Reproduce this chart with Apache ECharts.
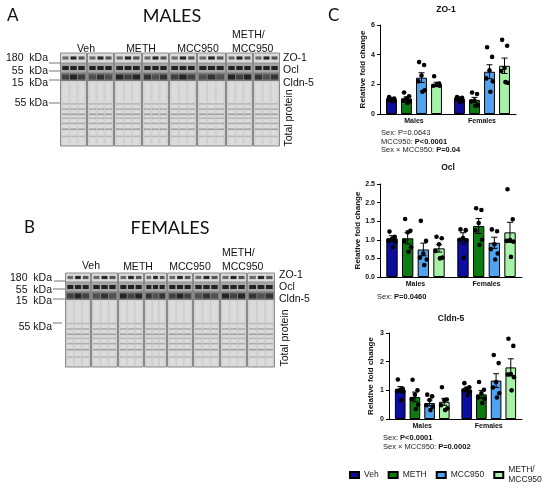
<!DOCTYPE html>
<html><head><meta charset="utf-8">
<script src="https://cdn.jsdelivr.net/npm/echarts@6/dist/echarts.min.js"></script>
<style>html,body{margin:0;padding:0;background:#fff}#c{width:550px;height:491px}</style>
</head><body><div id="c"></div>
<script>
// ---------------- DATA ----------------
const TREATMENTS = ['Veh', 'METH', 'MCC950', 'METH/\nMCC950'];
const SEXES = ['Males', 'Females'];
const COLORS = ['#0c0c9e', '#0b7b12', '#4fa3f0', '#a8f2a8'];

// per treatment: [Males, Females]
const ZO1_MEAN = [[1.0, 1.0], [1.05, 0.95], [2.45, 2.85], [2.0, 3.25]];
const ZO1_SEM  = [[0.05, 0.06], [0.10, 0.17], [0.33, 0.47], [0.14, 0.52]];
const ZO1_DOTS = [
  [[1.15, 1.05, 1.0, 0.95, 0.9, 0.85], [1.15, 1.1, 1.05, 1.0, 0.9, 0.8]],
  [[1.45, 1.2, 1.05, 0.9, 0.85, 0.75], [1.45, 1.35, 0.9, 0.85, 0.6, 0.55]],
  [[3.5, 3.3, 2.6, 2.2, 1.6, 1.5], [4.5, 3.85, 2.95, 2.4, 2.2, 1.5]],
  [[2.55, 2.05, 1.95, 1.9, 1.9, 2.0], [5.0, 4.6, 3.1, 2.9, 2.1, 2.15]]
];

const OCL_MEAN = [[1.04, 1.04], [1.04, 1.37], [0.74, 0.92], [0.77, 1.20]];
const OCL_SEM  = [[0.07, 0.15], [0.15, 0.20], [0.17, 0.15], [0.10, 0.27]];
const OCL_DOTS = [
  [[1.22, 1.08, 1.02, 0.97, 0.95, 0.8], [1.28, 1.26, 1.05, 1.0, 0.98, 0.52]],
  [[1.56, 1.24, 1.2, 0.97, 0.8, 0.68], [1.85, 1.8, 1.45, 1.25, 1.0, 0.86]],
  [[1.51, 0.97, 0.63, 0.52, 0.47, 0.32], [1.28, 1.23, 0.88, 0.75, 0.63, 0.47]],
  [[1.08, 1.04, 0.88, 0.7, 0.52, 0.5], [2.36, 1.55, 0.99, 0.97, 0.95, 0.54]]
];

const CLDN_MEAN = [[1.03, 1.03], [0.77, 0.86], [0.56, 1.34], [0.60, 1.80]];
const CLDN_SEM  = [[0.10, 0.08], [0.17, 0.13], [0.10, 0.24], [0.12, 0.30]];
const CLDN_DOTS = [
  [[1.38, 1.05, 1.02, 0.98, 0.95, 0.66], [1.25, 1.11, 1.05, 1.0, 0.95, 0.83]],
  [[1.37, 1.0, 0.85, 0.7, 0.5, 0.35], [1.29, 1.02, 0.9, 0.75, 0.71, 0.56]],
  [[0.85, 0.79, 0.66, 0.48, 0.43, 0.31], [2.23, 1.95, 1.29, 1.1, 0.9, 0.75]],
  [[1.11, 0.68, 0.66, 0.48, 0.37, 0.31], [2.8, 2.55, 1.57, 1.55, 1.46, 1.0]]
];

const ZO1_STATS = ['Sex: P=0.0643', 'MCC950: {b|P<0.0001}', 'Sex \u00d7 MCC950: {b|P=0.04}'];
const OCL_STATS = ['Sex: {b|P=0.0460}'];
const CLDN_STATS = ['Sex: {b|P<0.0001}', 'Sex \u00d7 MCC950: {b|P=0.0002}'];

const BLOT_GROUPS = ['Veh', 'METH', 'MCC950'];
const BLOT_ROWS = ['ZO-1', 'Ocl', 'Cldn-5'];
const KDA = ['180  kDa', '55  kDa', '15  kDa', '55 kDa'];

// ---------------- LAYOUT / STYLE ----------------
const BAR_FRAC = 0.16, GAP_FRAC = 0.38;
const JIT = [-0.22, 0.24, 0.0, -0.3, 0.3, 0.08];
const AR = 'Liberation Sans';

function barX(api, cat, t) {
  const band = api.size([1, 0])[0];
  const bw = band * BAR_FRAC, gap = bw * GAP_FRAC;
  const total = 4 * bw + 3 * gap;
  const c = api.coord([cat, 0]);
  return c[0] - total / 2 + bw / 2 + t * (bw + gap);
}

const CHARTS = [
  {title: 'ZO-1', mean: ZO1_MEAN, sem: ZO1_SEM, dots: ZO1_DOTS,
   grid: {left: 380, top: 25, width: 136, height: 89}, max: 6, interval: 2, dec: 0, nameGap: 11,
   tpos: [446, 10], stats: ZO1_STATS, spos: [381, 133]},
  {title: 'Ocl', mean: OCL_MEAN, sem: OCL_SEM, dots: OCL_DOTS,
   grid: {left: 380, top: 184, width: 142, height: 93}, max: 2.5, interval: 0.5, dec: 1, nameGap: 17,
   tpos: [448, 168], stats: OCL_STATS, spos: [377, 297]},
  {title: 'Cldn-5', mean: CLDN_MEAN, sem: CLDN_SEM, dots: CLDN_DOTS,
   grid: {left: 389, top: 333, width: 133, height: 86}, max: 3, interval: 1, dec: 0, nameGap: 14,
   tpos: [451, 319], stats: CLDN_STATS, spos: [383, 438]}
];

const grids = [], xAxes = [], yAxes = [], series = [], graphics = [];

CHARTS.forEach((ch, gi) => {
  grids.push(Object.assign({containLabel: false}, ch.grid));
  xAxes.push({
    gridIndex: gi, type: 'category', data: SEXES,
    axisLine: {lineStyle: {color: '#000', width: 1}},
    axisTick: {alignWithLabel: true, length: 2, lineStyle: {color: '#000'}},
    axisLabel: {fontSize: 7, fontWeight: 'bold', color: '#111', margin: 4, fontFamily: AR}
  });
  yAxes.push({
    gridIndex: gi, type: 'value', min: 0, max: ch.max, interval: ch.interval,
    name: 'Relative fold change', nameLocation: 'middle', nameGap: ch.nameGap,
    nameTextStyle: {fontSize: 8, fontWeight: 'bold', color: '#111', fontFamily: AR},
    axisLine: {show: true, lineStyle: {color: '#000', width: 1}},
    axisTick: {show: true, length: 3, lineStyle: {color: '#000'}},
    splitLine: {show: false},
    axisLabel: {fontSize: 7, fontWeight: 'bold', color: '#111', margin: 5, fontFamily: AR,
      formatter: v => v.toFixed(ch.dec)}
  });
  TREATMENTS.forEach((tn, t) => {
    series.push({
      type: 'bar', name: tn, xAxisIndex: gi, yAxisIndex: gi,
      data: ch.mean[t], barWidth: (BAR_FRAC * 100) + '%', barGap: (GAP_FRAC * 100) + '%',
      itemStyle: {color: COLORS[t], borderColor: '#000', borderWidth: 1},
      z: 2, silent: true
    });
  });
  const errData = [], dotData = [];
  TREATMENTS.forEach((tn, t) => {
    SEXES.forEach((s, si) => {
      errData.push([si, ch.mean[t][si], t, ch.sem[t][si]]);
      ch.dots[t][si].forEach((v, k) => dotData.push([si, v, t, k]));
    });
  });
  series.push({
    type: 'custom', xAxisIndex: gi, yAxisIndex: gi, z: 3, silent: true,
    dimensions: ['x', 'y', 't', 's'], encode: {x: 0, y: 1},
    data: errData,
    renderItem: (params, api) => {
      const cat = api.value(0), m = api.value(1), t = api.value(2), s = api.value(3);
      const x = barX(api, cat, t);
      const top = api.coord([cat, m + s])[1], bot = api.coord([cat, m - s])[1];
      const cw = api.size([1, 0])[0] * BAR_FRAC * 0.55;
      const st = {stroke: '#000', lineWidth: 1};
      return {type: 'group', children: [
        {type: 'line', shape: {x1: x, y1: top, x2: x, y2: bot}, style: st},
        {type: 'line', shape: {x1: x - cw / 2, y1: top, x2: x + cw / 2, y2: top}, style: st},
        {type: 'line', shape: {x1: x - cw / 2, y1: bot, x2: x + cw / 2, y2: bot}, style: st}
      ]};
    }
  });
  series.push({
    type: 'custom', xAxisIndex: gi, yAxisIndex: gi, z: 4, silent: true,
    dimensions: ['x', 'y', 't', 'k'], encode: {x: 0, y: 1},
    data: dotData,
    renderItem: (params, api) => {
      const cat = api.value(0), v = api.value(1), t = api.value(2), k = api.value(3);
      const bw = api.size([1, 0])[0] * BAR_FRAC;
      const x = barX(api, cat, t) + JIT[k % JIT.length] * bw;
      const y = api.coord([cat, v])[1];
      return {type: 'circle', shape: {cx: x, cy: y, r: 2.3}, style: {fill: '#000'}};
    }
  });
  // title
  graphics.push({type: 'text', x: ch.tpos[0], y: ch.tpos[1], silent: true,
    style: {text: ch.title, fontSize: 8.5, fontWeight: 'bold', fontFamily: AR, fill: '#111',
      align: 'center', verticalAlign: 'middle'}});
  ch.stats.forEach((line, li) => {
    graphics.push({type: 'text', x: ch.spos[0], y: ch.spos[1] + li * 8.5, silent: true,
      style: {text: line, fontSize: 7.5, fontFamily: AR, fill: '#222', align: 'left', verticalAlign: 'middle',
        rich: {b: {fontSize: 7.5, fontFamily: AR, fontWeight: 'bold', fill: '#111'}}}});
  });
});

// ---------------- BLOTS (decorative images) ----------------
const TP_BANDS = [0.34, 0.42, 0.5, 0.56, 0.64, 0.73, 0.84];
function R(x, y, w, h, fill, op) {
  return {type: 'rect', silent: true, shape: {x, y, width: w, height: h},
    style: {fill, opacity: op == null ? 1 : op}};
}
function blot(B) {
  const els = [];
  const [zt, zb] = B.zo, [ot, ob] = B.ocl, [ct, cb] = B.cl, [tt, tb] = B.tp;
  for (let i = 0; i < B.boxes.length - 1; i++) {
    const x0 = B.boxes[i] + 0.5, x1 = B.boxes[i + 1] - 0.5, w = x1 - x0;
    els.push(R(x0, zt, w, zb - zt, '#dadada'));
    els.push(R(x0, ot, w, ob - ot, '#a6a6a6'));
    els.push(R(x0, ct, w, cb - ct, '#7c7c7c'));
    els.push(R(x0, tt, w, tb - tt, '#cfcfcf'));
    const lw = (w - 2) / 3;
    for (let l = 0; l < 3; l++) {
      const lx = x0 + 1 + l * lw;
      const v = 0.55 + 0.45 * (((i * 5 + l * 3) % 5) / 4);
      const v2 = 0.5 + 0.5 * (((i * 3 + l * 2 + 1) % 4) / 3);
      els.push(R(lx + 1, zt + (zb - zt) / 2 - 1.6, lw - 2, 3.2, '#111', v));
      els.push(R(lx + 0.8, ot + (ob - ot) / 2 - 2, lw - 1.6, 4, '#0a0a0a', 0.85));
      els.push(R(lx + 0.5, ct + (cb - ct) / 2 - 2.5, lw - 1, 5, '#151515', v2 * 0.85));
      els.push(R(lx + 1, tt + 1, lw - 2, tb - tt - 2, '#e6e6e6', 0.55));
      TP_BANDS.forEach((p, k) => els.push(R(lx + 0.5, tt + p * (tb - tt), lw - 1, 1.6, '#6e6e6e', 0.3 + 0.12 * (k % 3))));
    }
    els.push({type: 'rect', silent: true, shape: {x: x0, y: zt, width: w, height: tb - zt},
      style: {fill: 'none', stroke: '#8a8a8a', lineWidth: 1}});
    els.push({type: 'line', silent: true, shape: {x1: x0, y1: zb, x2: x1, y2: zb}, style: {stroke: '#888', lineWidth: 0.8}});
    els.push({type: 'line', silent: true, shape: {x1: x0, y1: ob, x2: x1, y2: ob}, style: {stroke: '#777', lineWidth: 0.8}});
  }
  return els;
}
function txt(x, y, text, opt) {
  return Object.assign({type: 'text', x, y, silent: true,
    style: Object.assign({text, fontSize: 10.5, fontFamily: AR, fill: '#111', align: 'left', verticalAlign: 'middle'}, opt || {})});
}
const BLOT_A = {boxes: [60, 87, 114, 142, 169, 197, 226, 253, 280], zo: [53, 63], ocl: [63, 73], cl: [73, 81], tp: [81, 146]};
const BLOT_B = {boxes: [65, 91, 118, 144, 167, 193, 220, 247, 275], zo: [273, 282], ocl: [282, 292], cl: [292, 300], tp: [300, 367]};
graphics.push(...blot(BLOT_A), ...blot(BLOT_B));

// panel letters & titles
const BIG = {fontFamily: 'Lato', fontSize: 18, fill: '#111'};
graphics.push(txt(7, 16, 'A', Object.assign({}, BIG, {fontSize: 17})));
graphics.push(txt(172, 16, 'MALES', Object.assign({}, BIG, {align: 'center'})));
graphics.push(txt(24, 228, 'B', Object.assign({}, BIG, {fontSize: 17})));
graphics.push(txt(170, 228, 'FEMALES', Object.assign({}, BIG, {align: 'center'})));
graphics.push(txt(328, 16, 'C', Object.assign({}, BIG, {fontSize: 17})));

// group labels
graphics.push(txt(86, 49, BLOT_GROUPS[0], {align: 'center'}));
graphics.push(txt(141, 49, BLOT_GROUPS[1], {align: 'center'}));
graphics.push(txt(198, 49, BLOT_GROUPS[2], {align: 'center'}));
graphics.push(txt(232, 35, 'METH/'));
graphics.push(txt(232, 49, 'MCC950'));
graphics.push(txt(91, 266, BLOT_GROUPS[0], {align: 'center'}));
graphics.push(txt(138, 267, BLOT_GROUPS[1], {align: 'center'}));
graphics.push(txt(190, 267, BLOT_GROUPS[2], {align: 'center'}));
graphics.push(txt(222, 253, 'METH/'));
graphics.push(txt(222, 267, 'MCC950'));

// row labels
graphics.push(txt(283, 58, BLOT_ROWS[0]), txt(283, 70.5, BLOT_ROWS[1]), txt(283, 83, BLOT_ROWS[2]));
graphics.push(txt(289, 118, 'Total protein', {align: 'center'}));
graphics[graphics.length - 1].rotation = Math.PI / 2;
graphics.push(txt(279, 275, BLOT_ROWS[0]), txt(279, 287, BLOT_ROWS[1]), txt(279, 299, BLOT_ROWS[2]));
graphics.push(txt(285, 338, 'Total protein', {align: 'center'}));
graphics[graphics.length - 1].rotation = Math.PI / 2;

// kDa labels and leader lines
function kda(x, y, t, ly, lx1, lx2) {
  graphics.push(txt(x, y, t, {align: 'right'}));
  graphics.push({type: 'line', silent: true, shape: {x1: lx1, y1: ly, x2: lx2, y2: ly}, style: {stroke: '#777', lineWidth: 1}});
}
kda(48, 58, KDA[0], 63, 49, 60);
kda(48, 71, KDA[1], 71, 49, 60);
kda(48, 83, KDA[2], 80, 49, 60);
kda(48, 103, KDA[3], 103, 49, 60);
kda(52, 278, KDA[0], 281, 54, 65);
kda(52, 290, KDA[1], 289, 53, 65);
kda(52, 301, KDA[2], 299, 53, 65);
kda(52, 327, KDA[3], 323, 53, 62);

const option = {
  animation: false,
  backgroundColor: '#fff',
  grid: grids, xAxis: xAxes, yAxis: yAxes, series,
  legend: {
    left: 349, top: 465, width: 230, padding: 0, orient: 'horizontal', itemWidth: 9, itemHeight: 6, itemGap: 9,
    icon: 'rect', selectedMode: false,
    data: TREATMENTS,
    textStyle: {fontSize: 8.5, fontFamily: AR, color: '#222', lineHeight: 10}
  },
  graphic: graphics
};
const chart = echarts.init(document.getElementById('c'), null, {renderer: 'canvas'});
chart.setOption(option);
</script></body></html>
